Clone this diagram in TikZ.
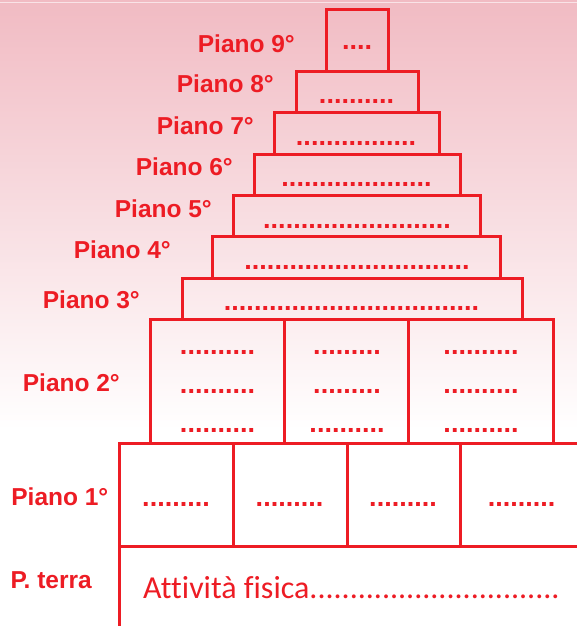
\documentclass[tikz,border=0pt]{standalone}
\usepackage{fontspec}
\setmainfont{Liberation Sans}
\newfontfamily\calib[Ligatures={NoCommon}]{Carlito}
\definecolor{rd}{RGB}{237,28,36}
\definecolor{pk}{RGB}{241,187,195}
\begin{document}
\begin{tikzpicture}[x=1pt,y=-1pt,
  box/.style={draw=rd, line width=3pt, inner sep=0pt, outer sep=0pt},
  lbl/.style={text=rd, font=\fontsize{24.5}{28}\selectfont\bfseries, anchor=base east, inner sep=0pt},
  dt/.style={text=rd, font=\fontsize{27}{30}\selectfont\bfseries, inner sep=0pt, anchor=base}]
\useasboundingbox (0,0) rectangle (577,626);
\shade[top color=pk, bottom color=white] (0,0) rectangle (577,430);
\fill[white] (0,430) rectangle (577,626);
\draw[white, opacity=0.6, line width=1pt] (0,3) -- (577,3);
% pyramid boxes
\node[box, minimum width=62pt, minimum height=61pt] (b9) at (357,40.5) {};
\node[box, minimum width=122pt, minimum height=41pt] (b8) at (357,91.5) {};
\node[box, minimum width=165pt, minimum height=42pt] (b7) at (356.5,133) {};
\node[box, minimum width=206pt, minimum height=41pt] (b6) at (357,174.5) {};
\node[box, minimum width=247pt, minimum height=41pt] (b5) at (356.5,215.5) {};
\node[box, minimum width=288pt, minimum height=42pt] (b4) at (356,257) {};
\node[box, minimum width=340pt, minimum height=41pt] (b3) at (352,298.5) {};
\node[box, minimum width=134pt, minimum height=124pt] (b2a) at (217,381) {};
\node[box, minimum width=124pt, minimum height=124pt] (b2b) at (346,381) {};
\node[box, minimum width=145pt, minimum height=124pt] (b2c) at (480.5,381) {};
\node[box, minimum width=114pt, minimum height=103pt] (b1a) at (176,494.5) {};
\node[box, minimum width=114pt, minimum height=103pt] (b1b) at (290,494.5) {};
\node[box, minimum width=113pt, minimum height=103pt] (b1c) at (403.5,494.5) {};
\node[box, minimum width=130pt, minimum height=103pt] (b1d) at (525,494.5) {};
\node[box, minimum width=471pt, minimum height=94pt] (b0) at (354.5,593) {};
% dots
\node[dt] (d9) at (357,50) {....};
\node[dt] (d8) at (356.5,103) {..........};
\node[dt] (d7) at (356,145) {................};
\node[dt] (d6) at (356.5,186) {....................};
\node[dt] (d5) at (357,228) {.........................};
\node[dt] (d4) at (357,269) {..............................};
\node[dt] (d3) at (351.5,310) {..................................};
\node[dt] (d2a1) at (217.5,354) {..........};
\node[dt] (d2a2) at (217.5,393) {..........};
\node[dt] (d2a3) at (217.5,432) {..........};
\node[dt] (d2b1) at (347,354) {.........};
\node[dt] (d2b2) at (347,393) {.........};
\node[dt] (d2b3) at (347,432) {..........};
\node[dt] (d2c1) at (481,354) {..........};
\node[dt] (d2c2) at (481,393) {..........};
\node[dt] (d2c3) at (481,432) {..........};
\node[dt] (d1a) at (176,506.5) {.........};
\node[dt] (d1b) at (289.5,506.5) {.........};
\node[dt] (d1c) at (403,506.5) {.........};
\node[dt] (d1d) at (521.5,506.5) {.........};
\node[text=rd, font=\calib\fontsize{32}{35}\selectfont, anchor=base west, inner sep=0pt] (att) at (143,598) {Attività fisica...............................};
% labels
\node[lbl] (l9) at (295,52.5) {Piano 9°};
\node[lbl] (l8) at (274,92.5) {Piano 8°};
\node[lbl] (l7) at (254,134) {Piano 7°};
\node[lbl] (l6) at (233,175) {Piano 6°};
\node[lbl] (l5) at (212,217) {Piano 5°};
\node[lbl] (l4) at (171,258) {Piano 4°};
\node[lbl] (l3) at (140,308) {Piano 3°};
\node[lbl] (l2) at (120,391) {Piano 2°};
\node[lbl] (l1) at (108.5,505.5) {Piano 1°};
\node[lbl] (l0) at (92,588) {P. terra};
\end{tikzpicture}
\end{document}
